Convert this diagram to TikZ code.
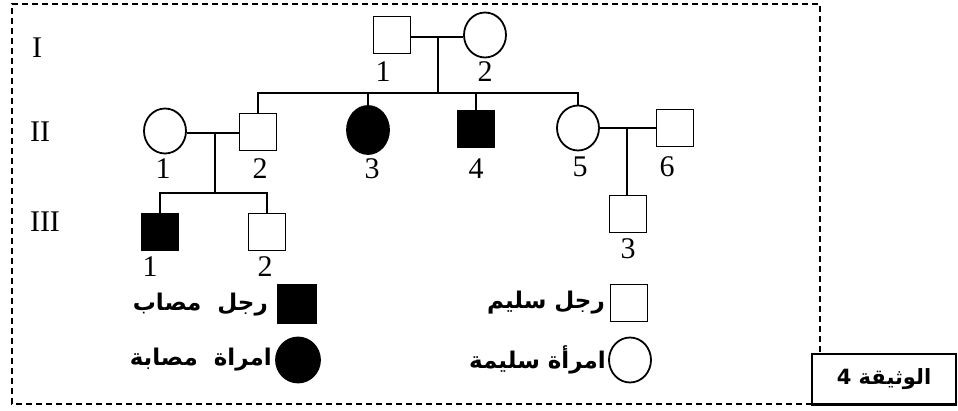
\documentclass[tikz,border=0pt]{standalone}
\usepackage{fontspec}
\setmainfont{Liberation Serif}
\newfontfamily\arabicfont[Script=Arabic]{DejaVu Sans}
\TeXXeTstate=1
\usetikzlibrary{shapes.geometric}
\tikzset{
  male/.style={shape=rectangle,draw,line width=1.8pt,minimum size=37pt,inner sep=0pt},
  female/.style={shape=ellipse,draw,line width=1.8pt,minimum width=42pt,minimum height=45pt,inner sep=0pt},
  ill/.style={fill=black},
  num/.style={font=\fontsize{30}{32}\selectfont,inner sep=0pt},
  gen/.style={font=\fontsize{30}{32}\selectfont,inner sep=0pt},
  legend/.style={font=\arabicfont\bfseries\fontsize{23}{26}\selectfont,inner sep=0pt},
  link/.style={line width=1.8pt}
}

\begin{document}
\begin{tikzpicture}[x=1pt,y=-1pt]
\useasboundingbox (0,0) rectangle (958,411);

% frame
\draw[line width=1.2pt,dash pattern=on 6pt off 4pt] (812,404) -- (12,404) -- (12,4) -- (820,4) -- (820,354);

% generations
\path (37,48) node [gen] (gI) {I};
\path (40,132) node [gen] (gII) {II};
\path (45,222) node [gen] (gIII) {III};

% generation I
\path (392,35) node [male] (I1) {};
\path (485,35) node [female] (I2) {};
\path (383,72) node [num] (nI1) {1};
\path (485,72) node [num] (nI2) {2};

% generation II
\path (165,131) node [female] (II1) {};
\path (258,132) node [male] (II2) {};
\path (368,130) node [female,ill,minimum height=48pt] (II3) {};
\path (476,129) node [male,ill] (II4) {};
\path (578,128) node [female] (II5) {};
\path (675,128) node [male] (II6) {};
\path (163,169) node [num] (nII1) {1};
\path (260,169) node [num] (nII2) {2};
\path (372,169) node [num] (nII3) {3};
\path (476,169) node [num] (nII4) {4};
\path (580,167) node [num] (nII5) {5};
\path (667,167) node [num] (nII6) {6};

% generation III
\path (160,232) node [male,ill] (III1) {};
\path (267,232) node [male] (III2) {};
\path (628,214) node [male] (III3) {};
\path (150,267) node [num] (nIII1) {1};
\path (265,267) node [num] (nIII2) {2};
\path (628,249) node [num] (nIII3) {3};

% links
\coordinate (mI) at (438,37);
\coordinate (sI) at (438,93);
\coordinate (mII) at (215,133);
\coordinate (sII) at (215,193);
\coordinate (mIIb) at (627,128);
\draw[link] (I1.east |- mI) -- (I2.west |- mI);
\draw[link] (mI) -- (sI);
\draw[link] (II2.north) |- (sI) -| (II5.north);
\draw[link] (II3.north) -- (II3.north |- sI);
\draw[link] (II4.north) -- (II4.north |- sI);
\draw[link] (II1.east |- mII) -- (II2.west |- mII);
\draw[link] (mII) -- (sII);
\draw[link] (III1.north) |- (sII) -| (III2.north);
\draw[link] (II5.east |- mIIb) -- (II6.west |- mIIb);
\draw[link] (mIIb) -- (mIIb |- III3.north);

% legend
\path (297,304) node [male,ill,minimum size=38pt] (kM) {};
\path (629,303) node [male,minimum size=37pt] (kH) {};
\path (298,360) node [female,ill,minimum width=44pt,minimum height=45pt] (kF) {};
\path (630,360) node [female] (kW) {};
\path (268,305) node [legend,anchor=east] (tM) {\beginR رجل\ \ مصاب\endR};
\path (605,303) node [legend,anchor=east] (tH) {\beginR رجل سليم\endR};
\path (272,360) node [legend,anchor=east] (tF) {\beginR امراة\ \ مصابة\endR};
\path (606,360) node [legend,anchor=east] (tW) {\beginR امرأة سليمة\endR};

% document label
\path (884,379) node [shape=rectangle,draw,line width=1.2pt,minimum width=144pt,minimum height=50pt,font=\arabicfont\bfseries\fontsize{21}{24}\selectfont] (doc) {\beginR الوثيقة 4\endR};
\draw[line width=3pt] (doc.south west) -- (doc.south east);
\end{tikzpicture}
\end{document}
